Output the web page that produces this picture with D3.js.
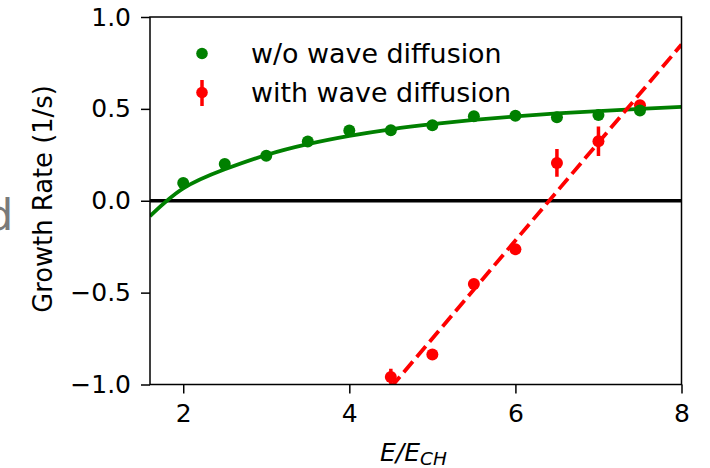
<!DOCTYPE html>
<html>
<head>
<meta charset="utf-8">
<script src="https://cdn.jsdelivr.net/npm/d3@7"></script>
<style>
  html, body { margin: 0; padding: 0; background: #fff; }
  svg { display: block; font-family: "DejaVu Sans", sans-serif; }
</style>
</head>
<body>
<svg id="chart" width="710" height="468"></svg>
<script>
// Growth rate without wave diffusion (green markers)
const energyNoDiff = [2, 2.5, 3, 3.5, 4, 4.5, 5, 5.5, 6, 6.5, 7, 7.5];
const rateNoDiff = [0.097, 0.20, 0.245, 0.322, 0.382, 0.384, 0.411, 0.46, 0.462, 0.455, 0.466, 0.491];

// Smooth saturating fit through the green markers
const fitNoDiffX = [1.6, 2, 2.5, 3, 3.5, 4, 4.5, 5, 5.5, 6, 6.5, 7, 7.5, 8];
const fitNoDiffY = [-0.084, 0.067, 0.171, 0.249, 0.308, 0.353, 0.389, 0.417, 0.44, 0.459, 0.475, 0.488, 0.50, 0.511];

// Growth rate with wave diffusion (red markers with error bars)
const energyDiff = [4.5, 5, 5.5, 6, 6.5, 7, 7.5];
const rateDiff = [-0.959, -0.837, -0.453, -0.264, 0.206, 0.324, 0.52];
const errDiff = [0.045, 0.005, 0.01, 0.01, 0.075, 0.08, 0.01];

// Linear fit for the red series
const fitDiffX = [4.5, 8];
const fitDiffY = [-1.016, 0.85];

// Axis ticks and labels
const xTicks = [2, 4, 6, 8];
const yTicks = [-1.0, -0.5, 0.0, 0.5, 1.0];
const legendLabels = ["w/o wave diffusion", "with wave diffusion"];
const yLabel = "Growth Rate (1/s)";

const svg = d3.select("#chart");
const plotLeft = 150, plotRight = 681.5, plotTop = 17, plotBottom = 384.5;

const x = d3.scaleLinear().domain([1.6, 8]).range([plotLeft, plotRight]);
const y = d3.scaleLinear().domain([-1, 1]).range([plotBottom, plotTop]);

const green = "#008000";
const red = "#ff0000";

// stray gray glyph at the left edge
svg.append("text")
  .attr("x", -14).attr("y", 230)
  .attr("font-size", 43).attr("fill", "#7a7a7a")
  .text("d");

svg.append("clipPath").attr("id", "plotClip")
  .append("rect").attr("x", plotLeft).attr("y", plotTop)
  .attr("width", plotRight - plotLeft).attr("height", plotBottom - plotTop);

const plot = svg.append("g").attr("clip-path", "url(#plotClip)");

// zero reference line
plot.append("line")
  .attr("x1", plotLeft).attr("x2", plotRight)
  .attr("y1", y(0)).attr("y2", y(0))
  .attr("stroke", "#000").attr("stroke-width", 3.3);

// red error bars and markers
const redPts = energyDiff.map((e, i) => ({ e, r: rateDiff[i], err: errDiff[i] }));
plot.selectAll(".errbar").data(redPts).join("line")
  .attr("x1", d => x(d.e)).attr("x2", d => x(d.e))
  .attr("y1", d => y(d.r - d.err)).attr("y2", d => y(d.r + d.err))
  .attr("stroke", red).attr("stroke-width", 3.5);
plot.selectAll(".reddot").data(redPts).join("circle")
  .attr("cx", d => x(d.e)).attr("cy", d => y(d.r)).attr("r", 6)
  .attr("fill", red);

// green markers
plot.selectAll(".greendot").data(energyNoDiff.map((e, i) => ({ e, r: rateNoDiff[i] })))
  .join("circle")
  .attr("cx", d => x(d.e)).attr("cy", d => y(d.r)).attr("r", 6)
  .attr("fill", green);

// green fit curve
const curveLine = d3.line().x(d => x(d[0])).y(d => y(d[1])).curve(d3.curveNatural);
plot.append("path")
  .datum(fitNoDiffX.map((v, i) => [v, fitNoDiffY[i]]))
  .attr("d", curveLine)
  .attr("fill", "none").attr("stroke", green).attr("stroke-width", 3.8);

// red dashed linear fit
plot.append("path")
  .datum(fitDiffX.map((v, i) => [v, fitDiffY[i]]))
  .attr("d", d3.line().x(d => x(d[0])).y(d => y(d[1])))
  .attr("fill", "none").attr("stroke", red).attr("stroke-width", 3.8)
  .attr("stroke-dasharray", "14,6");

// axes
const xAxis = svg.append("g").attr("transform", `translate(0,${plotBottom})`)
  .call(d3.axisBottom(x).tickValues(xTicks).tickSize(9).tickPadding(11).tickFormat(d3.format("d")));
const yAxis = svg.append("g").attr("transform", `translate(${plotLeft},0)`)
  .call(d3.axisLeft(y).tickValues(yTicks).tickSize(9).tickPadding(10)
    .tickFormat(d => d3.format(".1f")(d).replace("-", "\u2212")));

[xAxis, yAxis].forEach(g => {
  g.select(".domain").remove();
  g.selectAll(".tick line").attr("stroke", "#000").attr("stroke-width", 1.5);
  g.selectAll(".tick text").attr("font-size", 25).attr("fill", "#000")
    .attr("font-family", "DejaVu Sans, sans-serif");
});

// frame
svg.append("rect")
  .attr("x", plotLeft).attr("y", plotTop)
  .attr("width", plotRight - plotLeft).attr("height", plotBottom - plotTop)
  .attr("fill", "none").attr("stroke", "#000").attr("stroke-width", 1.5);

// axis titles
svg.append("text")
  .attr("transform", `translate(52,199) rotate(-90)`)
  .attr("text-anchor", "middle")
  .attr("font-size", 25.8).attr("fill", "#000")
  .text(yLabel);

const xt = svg.append("text")
  .attr("x", 380).attr("y", 461)
  .attr("font-size", 25).attr("font-style", "italic").attr("fill", "#000");
xt.append("tspan").text("E/E");
xt.append("tspan").attr("font-size", 18.5).attr("dy", 4).text("CH");

// legend
const leg = svg.append("g");
leg.append("circle").attr("cx", 202).attr("cy", 53.5).attr("r", 5.8).attr("fill", green);
leg.append("line").attr("x1", 202).attr("x2", 202).attr("y1", 80).attr("y2", 106)
  .attr("stroke", red).attr("stroke-width", 3.5);
leg.append("circle").attr("cx", 202).attr("cy", 92.5).attr("r", 5.8).attr("fill", red);
leg.selectAll(".lt").data(legendLabels).join("text")
  .attr("x", 251).attr("y", (d, i) => 62.5 + i * 39)
  .attr("font-size", 26.9).attr("fill", "#000")
  .text(d => d);
</script>
</body>
</html>
